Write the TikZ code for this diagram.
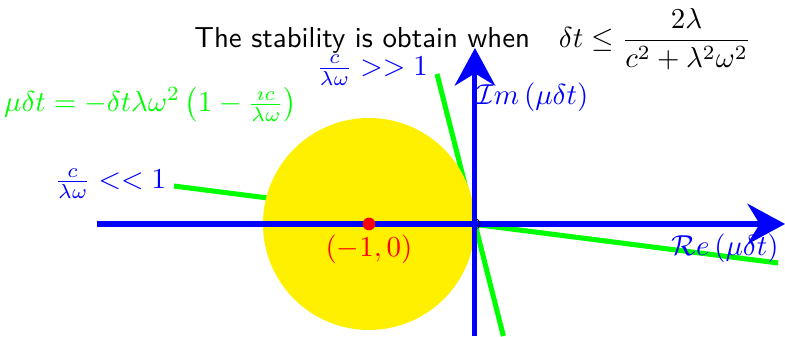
\documentclass[tikz,border=0pt]{standalone}
\usetikzlibrary{arrows.meta}
\definecolor{circyellow}{RGB}{255,240,0}
\begin{document}
\begin{tikzpicture}[x=1.29cm,y=1.29cm,
  axis/.style={blue,line width=1.75pt,-{Stealth[length=13pt,width=14pt]}},
  gline/.style={green,line width=1.75pt},
  blab/.style={blue,inner sep=1pt},
  glab/.style={green,inner sep=1pt}]
\useasboundingbox (-4.481,-1.057) rectangle (2.925,2.113);
\coordinate (O) at (0,0);
\coordinate (C) at (-1,0);
% green lines
\draw[gline] (-2.84,0.358) -- (2.86,-0.368);
\draw[gline] (-0.358,1.415) -- (0.268,-1.057);
% circle
\fill[circyellow] (C) circle (1);
% axes
\draw[axis] (-3.57,0) -- (2.925,0);
\draw[axis] (0,-1.057) -- (0,1.66);
% small arc
\draw[black,line width=0.3pt] (O) ++(70:0.05) arc (70:-60:0.05);
% red point
\fill[red] (C) circle (0.06);
\node[red] (lab1) at (-1,-0.24) {$(-1,0)$};
% labels
\node[glab] (eq) at (-3.06,1.13) {$\mu\delta t=-\delta t\lambda\omega^2\left(1-\frac{\imath c}{\lambda\omega}\right)$};
\node[blab] (small) at (-3.44,0.38) {$\frac{c}{\lambda\omega}<<1$};
\node[blab] (large) at (-0.97,1.45) {$\frac{c}{\lambda\omega}>>1$};
\node[blab] (im) at (0.54,1.20) {$\mathcal{I}m\left(\mu\delta t\right)$};
\node[blab] (re) at (2.36,-0.23) {$\mathcal{R}e\left(\mu\delta t\right)$};
\node[inner sep=0pt] (title) at (-0.02,1.745) {\sffamily The stability is obtain when\quad $\displaystyle\delta t\leq\frac{2\lambda}{c^2+\lambda^2\omega^2}$};
\end{tikzpicture}
\end{document}
